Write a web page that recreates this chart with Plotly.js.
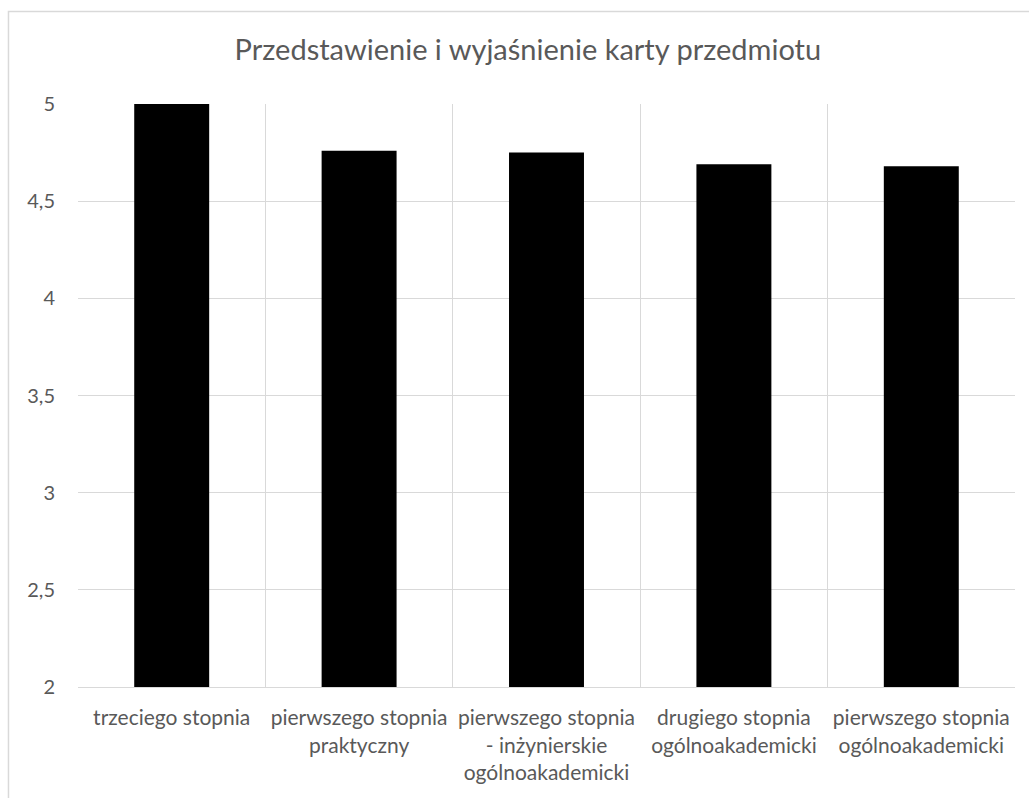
<!DOCTYPE html>
<html>
<head>
<meta charset="utf-8">
<script src="https://cdn.plot.ly/plotly-3.0.1.min.js"></script>
<style>html,body{margin:0;padding:0;background:#fff;}#chart{width:1029px;height:798px;}</style>
</head>
<body>
<div id="chart"></div>
<script>
const categories = [
  "trzeciego stopnia",
  "pierwszego stopnia<br>praktyczny",
  "pierwszego stopnia<br>- inżynierskie<br>ogólnoakademicki",
  "drugiego stopnia<br>ogólnoakademicki",
  "pierwszego stopnia<br>ogólnoakademicki"
];
const values = [5.0, 4.76, 4.75, 4.69, 4.68];
const yTickVals = [2, 2.5, 3, 3.5, 4, 4.5, 5];
const yTickText = ["2", "2,5", "3", "3,5", "4", "4,5", "5"];
const chartTitle = "Przedstawienie i wyjaśnienie karty przedmiotu";

const font = "Lato, 'Open Sans', sans-serif";
const data = [{
  type: "bar",
  x: categories,
  y: values,
  marker: {color: "#000000", line: {width: 0}},
  width: 0.4,
  hoverinfo: "x+y"
}];
const layout = {
  width: 1029, height: 798,
  margin: {l: 78, r: 14, t: 104, b: 111},
  paper_bgcolor: "#ffffff",
  plot_bgcolor: "#ffffff",
  showlegend: false,
  title: {text: chartTitle, font: {family: font, size: 29, color: "#595959"}, x: 0.513, xanchor: "center", y: 0.937, yanchor: "middle"},
  xaxis: {
    type: "category",
    tickson: "boundaries",
    showgrid: true, gridcolor: "#d9d9d9", gridwidth: 1,
    showline: true, linecolor: "#d9d9d9", linewidth: 1,
    ticks: "", ticklen: 0,
    ticklabelstandoff: 12,
    tickfont: {family: font, size: 21, color: "#595959"},
    fixedrange: true, automargin: false
  },
  yaxis: {
    range: [2, 5],
    tickvals: yTickVals, ticktext: yTickText,
    showgrid: true, gridcolor: "#d9d9d9", gridwidth: 1,
    zeroline: false, showline: false,
    ticks: "", ticklabelstandoff: 22,
    tickfont: {family: font, size: 20, color: "#595959"},
    fixedrange: true, automargin: false
  },
  shapes: [{
    type: "rect", xref: "paper", yref: "paper",
    x0: -0.0742, x1: 1.1, y0: -0.3, y1: 1.1587,
    line: {color: "#d9d9d9", width: 1.5}, fillcolor: "rgba(0,0,0,0)", layer: "below"
  }]
};
Plotly.newPlot("chart", data, layout, {displayModeBar: false, staticPlot: true});
</script>
</body>
</html>
